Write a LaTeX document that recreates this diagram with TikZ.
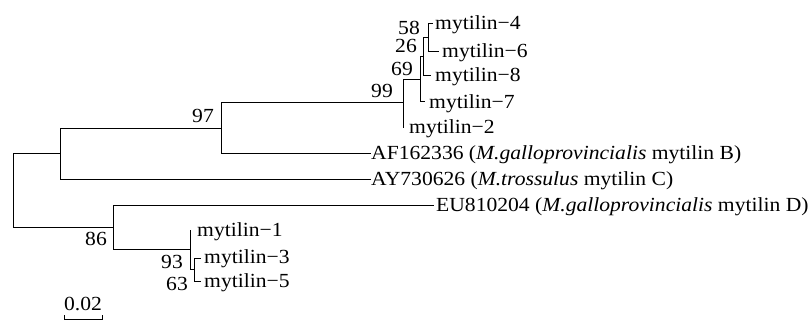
\documentclass[tikz,border=0pt]{standalone}
\usepackage{fontspec}
\setmainfont[FakeStretch=1.08]{Liberation Serif}
\begin{document}
\begin{tikzpicture}[x=1pt,y=-1pt,
  br/.style={line width=1pt, draw=black, line cap=rect},
  leaf/.style={anchor=base west, inner sep=0pt, font=\fontsize{20}{22}\selectfont},
  bs/.style={anchor=base east, inner sep=0pt, font=\fontsize{20}{22}\selectfont},
  sc/.style={anchor=base, inner sep=0pt, font=\fontsize{20}{22}\selectfont}]
\useasboundingbox (0,0) rectangle (812,321);
% internal nodes
\coordinate (r1) at (13,153);   \coordinate (r2) at (13,227);
\coordinate (a1) at (60,128);   \coordinate (a2) at (60,179);
\coordinate (n97a) at (221,103);\coordinate (n97b) at (221,153);
\coordinate (n99a) at (403,80); \coordinate (n99b) at (403,127);
\coordinate (n69a) at (420,57); \coordinate (n69b) at (420,102);
\coordinate (n26a) at (423,38); \coordinate (n26b) at (423,76);
\coordinate (n58a) at (428,24); \coordinate (n58b) at (428,52);
\coordinate (b1) at (113,205);  \coordinate (b2) at (113,249);
\coordinate (n93a) at (190,230);\coordinate (n93b) at (190,269);
\coordinate (n63a) at (194,258);\coordinate (n63b) at (194,281);
% tips
\coordinate (t4) at (432,24);
\coordinate (t6) at (438,52);
\coordinate (t8) at (430,76);
\coordinate (t7) at (424,102);
\coordinate (tAF) at (370,153);
\coordinate (tAY) at (370,179);
\coordinate (tEU) at (433,205);
\coordinate (t3) at (200,258);
\coordinate (t5) at (200,281);
% branches
\draw[br] (a1 |- r1) -- (r1) -- (r2) -- (b1 |- r2);
\draw[br] (n97a |- a1) -- (a1) -- (a2) -- (tAY);
\draw[br] (n99a |- n97a) -- (n97a) -- (n97b) -- (tAF);
\draw[br] (n69a |- n99a) -- (n99a) -- (n99b);
\draw[br] (n26a |- n69a) -- (n69a) -- (n69b) -- (t7);
\draw[br] (n58a |- n26a) -- (n26a) -- (n26b) -- (t8);
\draw[br] (t4) -- (n58a) -- (n58b) -- (t6);
\draw[br] (tEU) -- (b1) -- (b2) -- (n93a |- b2);
\draw[br] (n93a) -- (n93b) -- (n63a |- n93b);
\draw[br] (t3) -- (n63a) -- (n63b) -- (t5);
% leaf labels
\node[leaf] (L4) at (435,30) {mytilin−4};
\node[leaf] (L6) at (442,58) {mytilin−6};
\node[leaf] (L8) at (435,82) {mytilin−8};
\node[leaf] (L7) at (429,108) {mytilin−7};
\node[leaf] (L2) at (409,133) {mytilin−2};
\node[leaf] (LAF) at (371,159) {AF162336 (\textit{M.galloprovincialis} mytilin B)};
\node[leaf] (LAY) at (371,185) {AY730626 (\textit{M.trossulus} mytilin C)};
\node[leaf] (LEU) at (436,211) {EU810204 (\textit{M.galloprovincialis} mytilin D)};
\node[leaf] (L1) at (197,236) {mytilin−1};
\node[leaf] (L3) at (204,263) {mytilin−3};
\node[leaf] (L5) at (204,287) {mytilin−5};
% bootstrap values
\node[bs] (B58) at (420,35) {58};
\node[bs] (B26) at (417,53) {26};
\node[bs] (B69) at (413,76) {69};
\node[bs] (B99) at (393,98) {99};
\node[bs] (B97) at (214,123) {97};
\node[bs] (B86) at (107,245) {86};
\node[bs] (B93) at (183,268) {93};
\node[bs] (B63) at (188,290) {63};
% scale bar
\coordinate (s1) at (64,319); \coordinate (s2) at (102,319);
\draw[br, line cap=butt] ([yshift=4pt]s1) -- (s1) -- (s2) -- ([yshift=4pt]s2);
\node[sc] (S) at (83,310) {0.02};
\end{tikzpicture}
\end{document}
